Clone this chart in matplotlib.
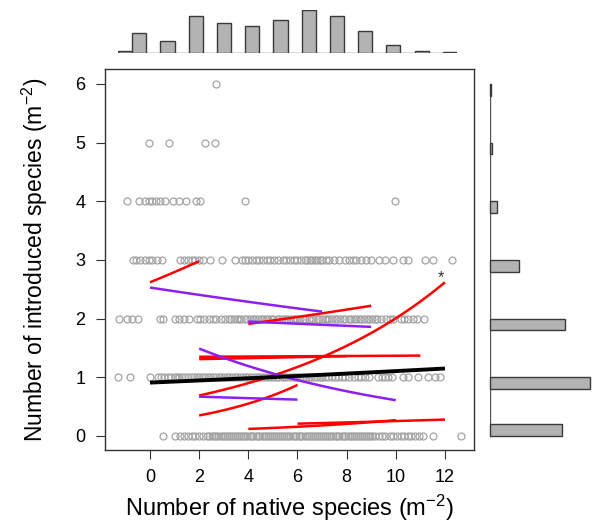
import numpy as np
import matplotlib
matplotlib.use("Agg")
import matplotlib.pyplot as plt

plt.rcParams['font.family'] = ['Liberation Sans', 'DejaVu Sans']
plt.rcParams['mathtext.fontset'] = 'custom'
plt.rcParams['mathtext.rm'] = 'Liberation Sans'
plt.rcParams['mathtext.it'] = 'Liberation Sans'

# ---------------- data ----------------
# scatter: x positions (native species m^-2) for each introduced-species level
row0 = [0.54, 1.02, 1.22, 1.38, 1.55, 1.7, 1.85, 2.0, 2.15, 2.3, 2.4, 2.52, 2.6, 2.7, 2.78, 2.88,
        2.95, 3.05, 3.12, 3.2, 3.3, 3.38, 3.45, 3.55, 3.62, 3.7, 3.8, 3.88, 3.95, 4.05, 4.12, 4.2,
        4.3, 4.38, 4.45, 4.55, 4.62, 4.7, 4.8, 4.88, 4.95, 5.05, 5.12, 5.2, 5.3, 5.38, 5.45, 5.55,
        5.62, 5.7, 5.8, 5.88, 5.95, 6.05, 6.12, 6.2, 6.3, 6.38, 6.45, 6.55, 6.62, 6.7, 6.8, 6.88,
        6.95, 7.05, 7.12, 7.2, 7.3, 7.38, 7.45, 7.55, 7.62, 7.7, 7.8, 7.88, 7.95, 8.05, 8.12, 8.2,
        8.3, 8.38, 8.45, 8.55, 8.62, 8.7, 8.8, 8.88, 8.95, 9.05, 9.15, 9.3, 9.45, 9.58, 9.75, 9.9,
        10.05, 10.2, 10.35, 10.5, 10.62, 10.78, 10.95, 11.1, 11.5, 12.64]
row1 = [-1.29, -0.81, 0.0, 0.33, 0.45, 0.58, 0.72, 0.85, 1.0, 1.1, 1.2, 1.3, 1.42, 1.55, 1.65,
        1.78, 1.9, 2.0, 2.12, 2.22, 2.35, 2.45, 2.55, 2.68, 2.8, 2.9, 3.0, 3.12, 3.22, 3.35, 3.45,
        3.55, 3.68, 3.8, 3.9, 4.0, 4.12, 4.22, 4.35, 4.45, 4.55, 4.68, 4.8, 4.9, 5.0, 5.12, 5.22,
        5.35, 5.45, 5.55, 5.68, 5.8, 5.9, 6.0, 6.12, 6.22, 6.35, 6.45, 6.55, 6.68, 6.8, 6.9, 7.0,
        7.12, 7.25, 7.4, 7.53, 7.65, 7.8, 7.95, 8.1, 8.3, 8.45, 8.6, 8.75, 8.9, 9.29, 9.42, 9.56,
        9.7, 9.83, 10.3, 10.5, 10.9, 11.3, 11.6, 11.8]
row2 = [-1.26, -0.95, -0.75, -0.47, 0.41, 0.54, 1.02, 1.2, 1.4, 1.6, 1.9, 2.05, 2.2, 2.38, 2.55,
        2.7, 2.88, 3.05, 3.2, 3.3, 3.4, 3.52, 3.62, 3.72, 3.85, 3.95, 4.05, 4.18, 4.28, 4.38,
        4.5, 4.6, 4.7, 4.82, 4.92, 5.02, 5.15, 5.25, 5.35, 5.48, 5.58, 5.68, 5.8, 5.9, 6.0, 6.12,
        6.22, 6.32, 6.45, 6.55, 6.65, 6.78, 6.88, 6.98, 7.1, 7.2, 7.3, 7.42, 7.52, 7.62, 7.75,
        7.85, 7.95, 8.08, 8.18, 8.28, 8.4, 8.5, 8.6, 8.72, 8.82, 8.92, 9.05, 9.15, 9.25, 9.4,
        9.6, 9.75, 9.9, 10.2, 10.35, 10.5, 10.7, 10.85, 11.16]
row3 = [-0.7, -0.55, -0.4, -0.2, -0.05, 0.1, 0.3, 0.5, 1.22, 1.4, 1.55, 1.7, 1.85, 2.0, 2.15,
        2.44, 2.92, 3.46, 3.73, 3.88, 4.0, 4.15, 4.3, 4.45, 4.6, 4.75, 4.9, 5.05, 5.2, 5.4, 5.55,
        5.7, 5.85, 6.0, 6.15, 6.3, 6.4, 6.5, 6.6, 6.7, 6.8, 6.9, 7.0, 7.15, 7.3, 7.5, 7.7, 7.93,
        8.1, 8.25, 8.4, 8.6, 8.8, 9.0, 9.3, 9.56, 9.9, 10.3, 10.5, 11.2, 11.5, 12.27]
row4 = [-0.92, -0.44, -0.2, -0.05, 0.1, 0.25, 0.41, 0.61, 0.94, 1.18, 1.46, 1.87, 2.03, 3.86, 9.97]
row5 = [-0.04, 0.76, 2.24, 2.64]
row6 = [2.70]
rows = [row0, row1, row2, row3, row4, row5, row6]

# fitted lines: (x_start, x_end, y_start, y_end), drawn as exponential (log-link) curves
red_fits = [(0, 2, 2.62, 2.98),
            (4, 9, 1.91, 2.22),
            (2, 11, 1.35, 1.37),
            (2, 8, 1.31, 1.36),
            (2, 12, 0.69, 2.62),
            (2, 6, 0.35, 0.87),
            (4, 10, 0.12, 0.27),
            (6, 12, 0.21, 0.28)]
purple_fits = [(0, 7, 2.53, 2.12),
               (4, 9, 1.95, 1.86),
               (2, 10, 1.49, 0.61),
               (2, 6, 0.67, 0.62)]
black_fit = (0, 12, 0.91, 1.15)
signif_label = "*"
signif_pos = (11.85, 2.70)

# marginal histograms
native_vals = [0, 1, 2, 3, 4, 5, 6, 7, 8, 9, 10, 11, 12]
native_counts = [4, 35, 22, 65, 54, 48, 58, 76, 66, 40, 14, 4, 2]
intro_vals = [0, 1, 2, 3, 4, 5, 6]
intro_counts = [126, 176, 131, 51, 12, 3, 1]

xticks = [0, 2, 4, 6, 8, 10, 12]
yticks = [0, 1, 2, 3, 4, 5, 6]
xlabel = "Number of native species (m$^{-2}$)"
ylabel = "Number of introduced species (m$^{-2}$)"

# ---------------- figure ----------------
W, H = 595, 522
fig = plt.figure(figsize=(W / 100, H / 100), dpi=100)

def px_axes(l, t, r, b):
    return fig.add_axes([l / W, 1 - b / H, (r - l) / W, (b - t) / H])

ax = px_axes(105, 69.3, 474.3, 450)
ax.set_xlim(-1.831, 13.194)
ax.set_ylim(-0.239, 6.25)

for k, xs in enumerate(rows):
    ax.plot(xs, [k] * len(xs), linestyle='none', marker='o', ms=5.0,
            mfc='none', mec='#a3a3a3', mew=0.9, zorder=2)

def draw_fit(fit, color, lw):
    x0, x1, y0, y1 = fit
    xx = np.linspace(x0, x1, 100)
    b = (np.log(y1) - np.log(y0)) / (x1 - x0)
    yy = np.exp(np.log(y0) + b * (xx - x0))
    ax.plot(xx, yy, color=color, lw=lw, solid_capstyle='butt', zorder=3)

for f in red_fits:
    draw_fit(f, '#ff0000', 1.8)
for f in purple_fits:
    draw_fit(f, '#8f1ff0', 1.8)
draw_fit(black_fit, '#000000', 2.8)
ax.text(signif_pos[0], signif_pos[1], signif_label, ha='center', va='center',
        fontsize=12, color='#333333', zorder=4)

ax.set_xticks(xticks)
ax.set_yticks(yticks)
ax.tick_params(direction='out', length=6.5, width=0.8, labelsize=13, pad=7.5,
               color='#333333')
for s in ax.spines.values():
    s.set_linewidth(1.0)
    s.set_color('#333333')

fig.text(289.7 / W, 1 - 516 / H, xlabel, ha='center', va='baseline', fontsize=17)
fig.text(35 / W, 1 - 260 / H, ylabel, ha='center', va='center', rotation=90, fontsize=16.5)

# top histogram (bins of width 0.5, right-closed)
axt = px_axes(118, 10, 457, 53.3)
axt.set_xlim(0, 12)
axt.set_ylim(0, max(native_counts))
lefts = [v - 0.5 if v > 0 else 0 for v in native_vals]
axt.bar(lefts, native_counts, width=0.5, align='edge', color='#b3b3b3',
        edgecolor='#3a3a3a', linewidth=1.0, zorder=2)
axt.plot([0, 12], [0, 0], color='#555555', lw=1.0, zorder=1)
axt.axis('off')

# right histogram (bins of width 0.2, right-closed)
axr = px_axes(490.3, 69.3, 590, 450)
axr.set_ylim(-0.239, 6.25)
axr.set_xlim(0, max(intro_counts))
bottoms = [v - 0.2 if v > 0 else 0 for v in intro_vals]
axr.barh(bottoms, intro_counts, height=0.2, align='edge', color='#b3b3b3',
         edgecolor='#3a3a3a', linewidth=1.0, zorder=2, clip_on=False)
axr.plot([0, 0], [0, 6], color='#555555', lw=1.0, zorder=1)
axr.axis('off')

fig.savefig('out.png', dpi=100)
